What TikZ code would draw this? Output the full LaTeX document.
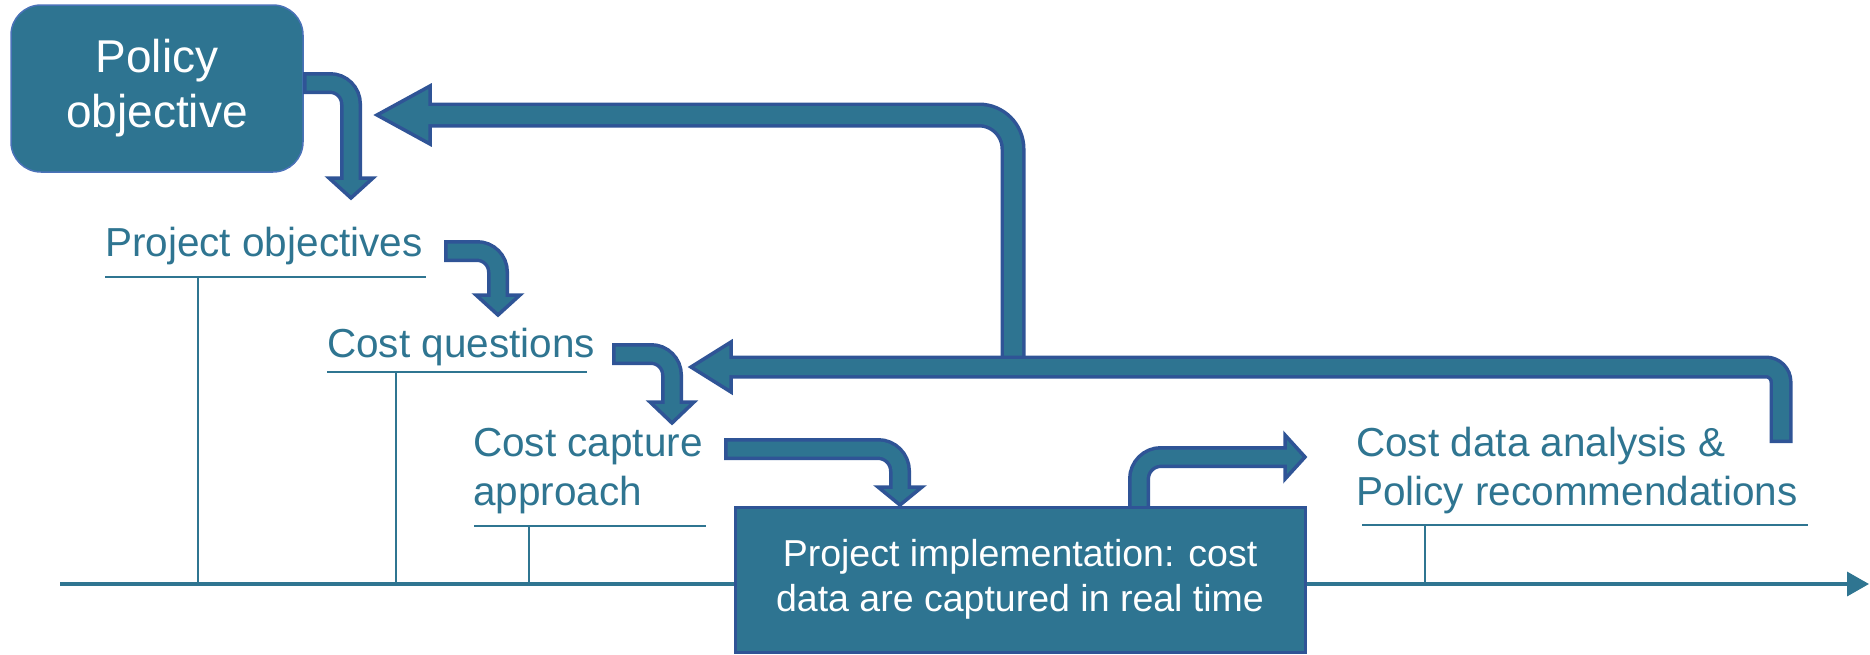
\documentclass[tikz,border=0pt]{standalone}
\usepackage{fontspec}
\setmainfont{Liberation Sans}
\usetikzlibrary{arrows.meta}

\definecolor{fillc}{HTML}{2E7491}
\definecolor{edgec}{HTML}{2F5496}
\definecolor{textc}{HTML}{2F7591}
\definecolor{softedge}{HTML}{4A72B8}

% Broad band arrow: #1 band width, #2 corner radius, #3 band path (ends at head base), #4 head outline
\newcommand\bandarrow[4]{%
  \draw[draw=edgec, line width=#1pt+7pt, rounded corners=#2pt] #3;
  \filldraw[fill=fillc, draw=edgec, line width=3.5pt, line join=miter] #4 -- cycle;
  \draw[draw=fillc, line width=#1pt, rounded corners=#2pt, shorten <=3.5pt, shorten >=-7pt] #3;
}

\begin{document}
\begin{tikzpicture}[x=1pt,y=-1pt,
  lbl/.style={text=textc, font=\fontsize{40.5}{48.5}\selectfont, inner sep=0pt, anchor=base west, align=left},
  rule/.style={draw=textc, line width=1.6pt},
  axis/.style={draw=textc, line width=3.5pt},
]
\useasboundingbox (0,0) rectangle (1870,654);

% time axis
\coordinate (t0) at (60,584);
\coordinate (t1) at (1869,584);
\draw[axis, -{Triangle[length=22pt,width=24pt]}] (t0) -- (t1);

% stage labels (multi-line labels are anchored at the baseline of their last line)
\node[lbl] (po) at (105,256) {Project objectives};
\node[lbl] (cq) at (327,357) {Cost questions};
\node[lbl] (cc) at (473,505) {Cost capture\\approach};
\node[lbl] (cd) at (1356,505) {Cost data analysis \&\\Policy recommendations};

% underlines and ticks down to the axis
\coordinate (u1a) at (105,277); \coordinate (u1b) at (426,277); \coordinate (k1) at (198,277); \coordinate (a1) at (198,584);
\coordinate (u2a) at (327,372); \coordinate (u2b) at (587,372); \coordinate (k2) at (396,372); \coordinate (a2) at (396,584);
\coordinate (u3a) at (474,526); \coordinate (u3b) at (706,526); \coordinate (k3) at (529,526); \coordinate (a3) at (529,584);
\coordinate (u4a) at (1362,525); \coordinate (u4b) at (1808,525); \coordinate (k4) at (1425,525); \coordinate (a4) at (1425,584);
\draw[rule] (u1a) -- (u1b); \draw[rule] (k1) -- (a1);
\draw[rule] (u2a) -- (u2b); \draw[rule] (k2) -- (a2);
\draw[rule] (u3a) -- (u3b); \draw[rule] (k3) -- (a3);
\draw[rule] (u4a) -- (u4b); \draw[rule] (k4) -- (a4);

% policy objective box
\node[draw=softedge, fill=fillc, line width=1.5pt, rounded corners=30pt,
      minimum width=292pt, minimum height=167pt, inner sep=0pt,
      text=white, align=center, font=\fontsize{46}{55}\selectfont] (pol) at (157,88.5) {Policy\\objective};

% step arrows
\bandarrow{15}{21}{(303,83) -- (351,83) -- (351,178)}{(329,178) -- (351,198) -- (373,178)}
\bandarrow{15}{21}{(444,251) -- (498,251) -- (498,295)}{(476,295) -- (498,315) -- (520,295)}
\bandarrow{15}{21}{(612,354) -- (672,354) -- (672,402)}{(650,402) -- (672,423) -- (694,402)}

% feedback loops
\bandarrow{18}{34}{(1013,367) -- (1013,115) -- (430,115)}{(430,86) -- (377,115) -- (430,144)}
\bandarrow{16}{15}{(1781,443) -- (1781,367) -- (731,367)}{(731,342) -- (691,367) -- (731,392)}

% output arrow leaving the implementation box
\bandarrow{15}{22}{(1139,525) -- (1139,457) -- (1285,457)}{(1285,435) -- (1305,457) -- (1285,479)}

% implementation box
\node[draw=edgec, fill=fillc, line width=3pt, minimum width=570pt, minimum height=145pt, inner sep=0pt,
      text=white, align=center, font=\fontsize{37.5}{45}\selectfont] (imp) at (1020,579.5)
      {Project implementation: cost\\data are captured in real time};

\bandarrow{15}{22}{(724,449) -- (900,449) -- (900,487)}{(878,487) -- (900,505) -- (922,487)}
\end{tikzpicture}
\end{document}
